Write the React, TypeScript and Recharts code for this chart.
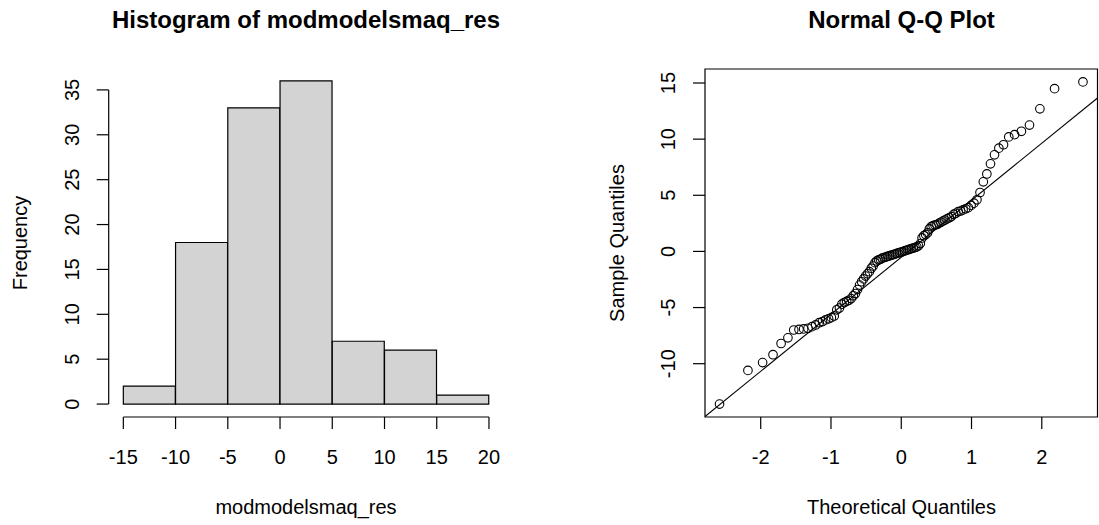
import { ComposedChart, Bar, Scatter, XAxis, YAxis, ReferenceLine, ReferenceArea } from 'recharts';

const FONT = '"Liberation Sans", Arial, Helvetica, sans-serif';

// histogram of residuals
const binStarts = [-15, -10, -5, 0, 5, 10, 15];
const binWidth = 5;
const frequencies = [2, 18, 33, 36, 7, 6, 1];
const histXTicks = [-15, -10, -5, 0, 5, 10, 15, 20];
const histYTicks = [0, 5, 10, 15, 20, 25, 30, 35];

// normal Q-Q plot (sorted residuals against normal quantiles)
const theoreticalQuantiles = [
  -2.586, -2.182, -1.973, -1.825, -1.71, -1.613, -1.53, -1.455, -1.389, -1.327,
  -1.27, -1.218, -1.168, -1.121, -1.077, -1.034, -0.994, -0.954, -0.917, -0.88,
  -0.845, -0.811, -0.777, -0.745, -0.713, -0.682, -0.652, -0.622, -0.593, -0.564,
  -0.536, -0.508, -0.48, -0.453, -0.426, -0.4, -0.374, -0.348, -0.322, -0.296,
  -0.271, -0.245, -0.221, -0.196, -0.171, -0.147, -0.122, -0.098, -0.073, -0.049,
  -0.024, 0, 0.024, 0.049, 0.073, 0.098, 0.122, 0.147, 0.171, 0.196,
  0.221, 0.245, 0.271, 0.296, 0.322, 0.348, 0.374, 0.4, 0.426, 0.453,
  0.48, 0.508, 0.536, 0.564, 0.593, 0.622, 0.652, 0.682, 0.713, 0.745,
  0.777, 0.811, 0.845, 0.88, 0.917, 0.954, 0.994, 1.034, 1.077, 1.121,
  1.168, 1.218, 1.27, 1.327, 1.389, 1.455, 1.53, 1.613, 1.71, 1.825,
  1.973, 2.182, 2.586,
];
const sampleQuantiles = [
  -13.6, -10.6, -9.9, -9.2, -8.2, -7.7, -7.0, -6.95, -6.9, -6.85,
  -6.7, -6.55, -6.35, -6.25, -6.1, -6.0, -5.9, -5.75, -5.2, -5.05,
  -4.7, -4.55, -4.45, -4.35, -4.2, -3.95, -3.75, -3.4, -3.0, -2.7,
  -2.45, -2.2, -2.0, -1.8, -1.5, -1.3, -1.0, -0.85, -0.75, -0.7,
  -0.6, -0.55, -0.5, -0.45, -0.4, -0.35, -0.3, -0.25, -0.2, -0.15,
  -0.1, -0.05, -0.02, 0.05, 0.1, 0.15, 0.2, 0.25, 0.3, 0.35,
  0.4, 0.5, 0.7, 1.2, 1.4, 1.5, 1.65, 2.0, 2.2, 2.3,
  2.35, 2.4, 2.5, 2.6, 2.7, 2.8, 2.9, 3.0, 3.1, 3.3,
  3.4, 3.55, 3.6, 3.7, 3.8, 3.9, 4.1, 4.3, 4.6, 5.25,
  6.2, 6.9, 7.8, 8.6, 9.2, 9.5, 10.2, 10.4, 10.7, 11.25,
  12.7, 14.5, 15.1,
];
const qqXTicks = [-2, -1, 0, 1, 2];
const qqYTicks = [-10, -5, 0, 5, 10, 15];
const qqLineIntercept = -0.52;
const qqLineSlope = 5.08;

// R pads every axis range by 4%
const pad = (lo: number, hi: number): [number, number] => {
  const d = (hi - lo) * 0.04;
  return [lo - d, hi + d];
};

const histData = binStarts.map((s, i) => ({ mid: s + binWidth / 2, count: frequencies[i] }));
const histX = pad(binStarts[0], binStarts[binStarts.length - 1] + binWidth);
const histY = pad(0, Math.max(...frequencies));

const qqData = theoreticalQuantiles.map((x, i) => ({ x, y: sampleQuantiles[i] }));
const qqX = pad(Math.min(...theoreticalQuantiles), Math.max(...theoreticalQuantiles));
const qqY = pad(Math.min(...sampleQuantiles), Math.max(...sampleQuantiles));

const INK = '#000';

const RotatedTick = (props: any) => {
  const { x, y, payload } = props;
  return (
    <text x={x} y={y} transform={`rotate(-90 ${x} ${y})`} textAnchor="middle"
      fontSize={20} fontFamily={FONT} fill={INK}>
      {payload.value}
    </text>
  );
};

const Circle = (props: any) => (
  <circle cx={props.cx} cy={props.cy} r={4.3} fill="none" stroke={INK} strokeWidth={1.1} />
);

const label = (text: string, x: number, y: number, opts: any = {}) => (
  <div style={{
    position: 'absolute', left: x, top: y, whiteSpace: 'nowrap',
    transform: `translate(-50%, -50%)${opts.rotate ? ' rotate(-90deg)' : ''}`,
    fontFamily: FONT, fontSize: opts.size ?? 20, fontWeight: opts.bold ? 700 : 400,
    color: INK, lineHeight: 1,
  }}>{text}</div>
);

const xTick = { fill: INK, fontSize: 20, fontFamily: FONT };
const tickLine = { stroke: INK, strokeWidth: 1.2 };

export default function App() {
  return (
    <div style={{ position: 'absolute', left: 0, top: 0, width: 1099, height: 525, background: '#fff', overflow: 'hidden' }}>
      <div style={{ position: 'absolute', left: 0, top: 0 }}>
        <ComposedChart width={550} height={525} data={histData} barCategoryGap={0}
          margin={{ top: 68, right: 46.4, bottom: 0, left: 0 }}>
          <XAxis type="number" dataKey="mid" domain={histX} ticks={histXTicks} interval={0}
            axisLine={false} tickLine={tickLine} tickSize={12} tickMargin={21} tick={xTick} height={108} />
          <YAxis type="number" domain={histY} ticks={histYTicks} interval={0} width={108.7}
            axisLine={false} tickLine={tickLine} tickSize={12} tickMargin={17.5} tick={<RotatedTick />} />
          <Bar dataKey="count" fill="#d3d3d3" stroke={INK} strokeWidth={1.2} isAnimationActive={false} />
          <ReferenceLine segment={[{ x: histXTicks[0], y: histY[0] }, { x: histXTicks[histXTicks.length - 1], y: histY[0] }]}
            stroke={INK} strokeWidth={1.2} ifOverflow="visible" />
          <ReferenceLine segment={[{ x: histX[0], y: histYTicks[0] }, { x: histX[0], y: histYTicks[histYTicks.length - 1] }]}
            stroke={INK} strokeWidth={1.2} ifOverflow="visible" />
        </ComposedChart>
      </div>
      <div style={{ position: 'absolute', left: 550, top: 0 }}>
        <ComposedChart width={549} height={525} data={qqData}
          margin={{ top: 69, right: 1.5, bottom: 0, left: 0 }}>
          <XAxis type="number" dataKey="x" domain={qqX} ticks={qqXTicks} interval={0}
            axisLine={false} tickLine={tickLine} tickSize={12} tickMargin={21} tick={xTick} height={108} />
          <YAxis type="number" dataKey="y" domain={qqY} ticks={qqYTicks} interval={0} width={155}
            axisLine={false} tickLine={tickLine} tickSize={12} tickMargin={17.5} tick={<RotatedTick />} />
          <ReferenceArea x1={qqX[0]} x2={qqX[1]} y1={qqY[0]} y2={qqY[1]} fill="none" fillOpacity={0}
            stroke={INK} strokeWidth={1.2} ifOverflow="visible" />
          <ReferenceLine segment={[
            { x: qqX[0], y: qqLineIntercept + qqLineSlope * qqX[0] },
            { x: qqX[1], y: qqLineIntercept + qqLineSlope * qqX[1] },
          ]} stroke={INK} strokeWidth={1.1} ifOverflow="hidden" />
          <Scatter data={qqData} dataKey="y" shape={<Circle />} isAnimationActive={false} />
        </ComposedChart>
      </div>
      {label('Histogram of modmodelsmaq_res', 306, 20, { bold: true, size: 24 })}
      {label('modmodelsmaq_res', 306, 507)}
      {label('Frequency', 20, 242.5, { rotate: true })}
      {label('Normal Q-Q Plot', 901.5, 20, { bold: true, size: 24 })}
      {label('Theoretical Quantiles', 901.5, 507)}
      {label('Sample Quantiles', 617, 243, { rotate: true })}
    </div>
  );
}
